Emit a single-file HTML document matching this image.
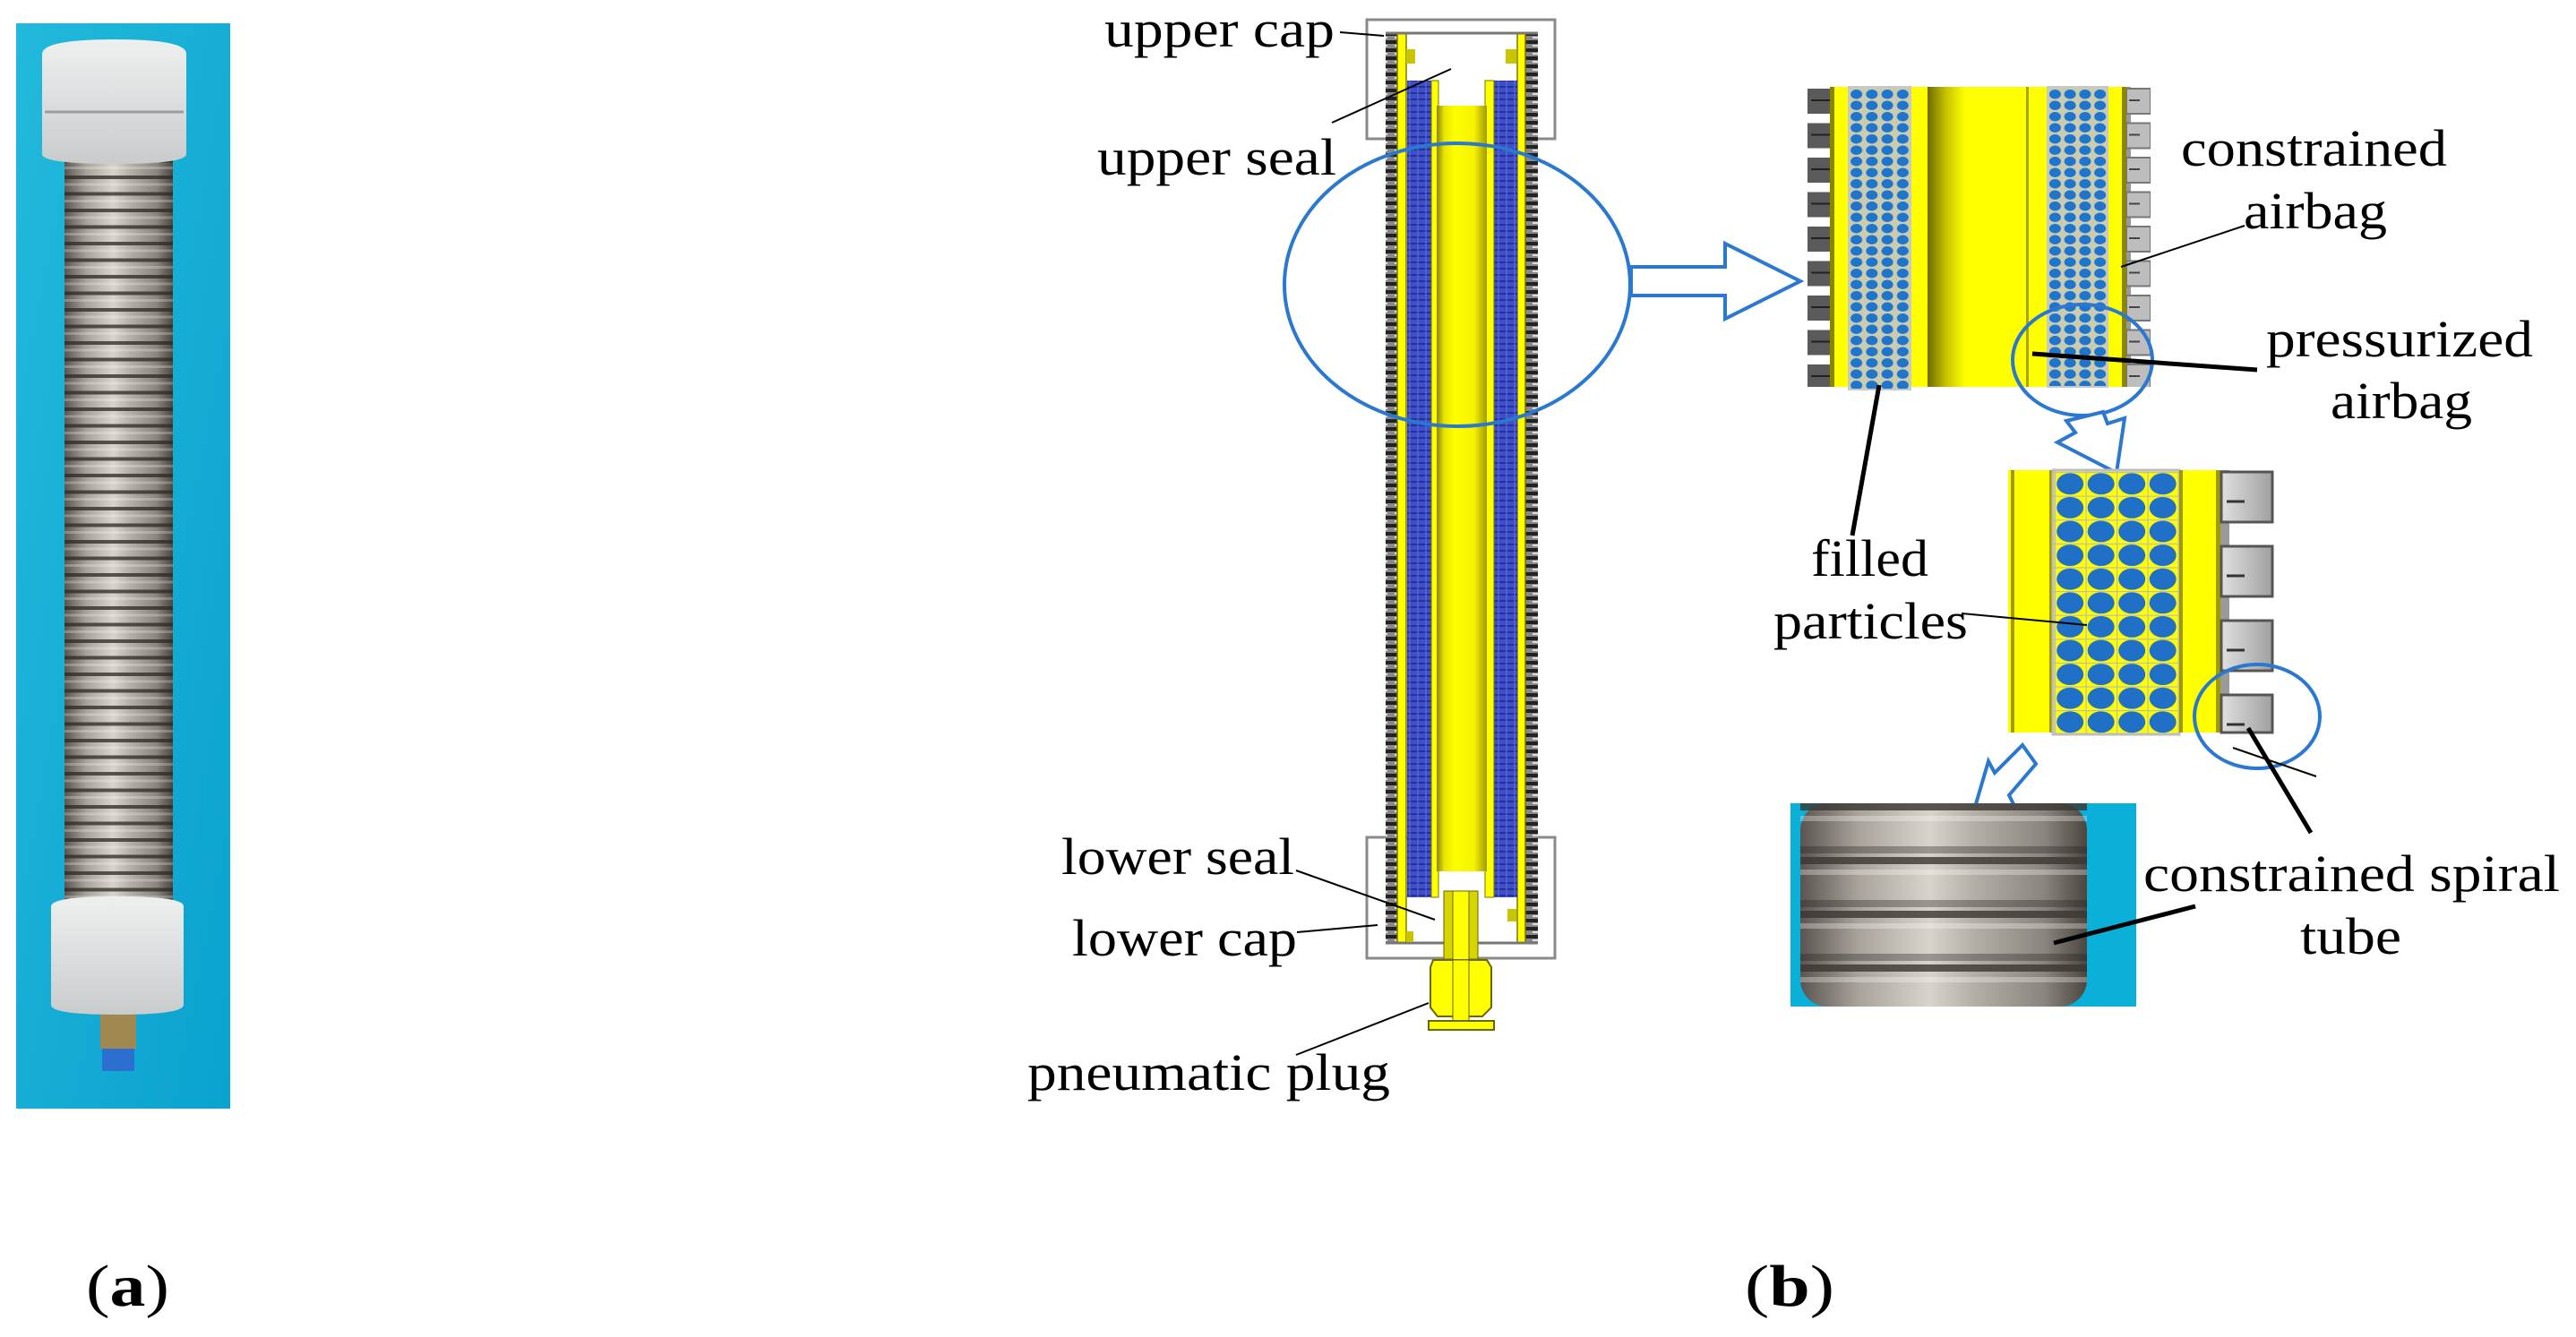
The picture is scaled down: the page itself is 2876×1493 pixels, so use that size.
<!DOCTYPE html>
<html><head><meta charset="utf-8"><style>
html,body{margin:0;padding:0;background:#fff}
svg{display:block}
text{font-family:"Liberation Serif",serif;fill:#000}
</style></head><body>
<svg width="2876" height="1493" viewBox="0 0 2876 1493" xmlns="http://www.w3.org/2000/svg">
<defs>
<linearGradient id="cyan" x1="0" y1="0" x2="1" y2="1"><stop offset="0" stop-color="#22b9dc"/><stop offset="1" stop-color="#0aa2cf"/></linearGradient>
<linearGradient id="metal" x1="0" y1="0" x2="1" y2="0"><stop offset="0" stop-color="#5a5550"/><stop offset="0.2" stop-color="#a8a29a"/><stop offset="0.45" stop-color="#d8d4cc"/><stop offset="0.6" stop-color="#b5b0a8"/><stop offset="0.85" stop-color="#8a857e"/><stop offset="1" stop-color="#4a4640"/></linearGradient>
<pattern id="coils" x="0" y="183" width="10" height="18.5" patternUnits="userSpaceOnUse"><rect width="10" height="18.5" fill="none"/><rect y="13" width="10" height="4" fill="#2a2622" opacity="0.75"/><rect y="3" width="10" height="3" fill="#fff" opacity="0.25"/></pattern>
<linearGradient id="cap" x1="0" y1="0" x2="0" y2="1"><stop offset="0" stop-color="#eef0f0"/><stop offset="1" stop-color="#c9cccd"/></linearGradient>
<linearGradient id="innerTube" x1="0" y1="0" x2="1" y2="0"><stop offset="0" stop-color="#8a8400"/><stop offset="0.15" stop-color="#e8e400"/><stop offset="0.35" stop-color="#ffff00"/><stop offset="0.75" stop-color="#f5f200"/><stop offset="1" stop-color="#a09a00"/></linearGradient>
<linearGradient id="darkband" x1="0" y1="0" x2="1" y2="0"><stop offset="0" stop-color="#6e6a00"/><stop offset="0.5" stop-color="#c8c400"/><stop offset="1" stop-color="#ffff00"/></linearGradient>
<pattern id="ribs" x="0" y="0" width="14" height="9" patternUnits="userSpaceOnUse"><rect width="14" height="9" fill="#888"/><rect y="0" width="14" height="4" fill="#222"/><rect x="3" y="5" width="6" height="2" fill="#ddd"/></pattern>
<pattern id="bluegrid" x="0" y="0" width="9" height="7" patternUnits="userSpaceOnUse"><rect width="9" height="7" fill="#3d50c8"/><rect y="5" width="9" height="2" fill="#27309a"/><rect x="7" width="2" height="7" fill="#5a6ad8" opacity="0.6"/></pattern>
<pattern id="dots1" x="2064" y="99" width="17.25" height="12.5" patternUnits="userSpaceOnUse"><rect width="17.25" height="12.5" fill="#c9ccb0"/><ellipse cx="8.6" cy="6.25" rx="6.5" ry="5.2" fill="#1f74cc"/></pattern>
<pattern id="dots1b" x="2286" y="99" width="16.75" height="12.5" patternUnits="userSpaceOnUse"><rect width="16.75" height="12.5" fill="#c9ccb0"/><ellipse cx="8.4" cy="6.25" rx="6.5" ry="5.2" fill="#1f74cc"/></pattern>
<pattern id="dots2" x="2294" y="527" width="34.5" height="26.6" patternUnits="userSpaceOnUse"><rect width="34.5" height="26.6" fill="#ffff00"/><ellipse cx="17.2" cy="13.3" rx="15" ry="12" fill="#2070c8"/><rect x="0" y="0" width="34.5" height="1.2" fill="#bbb"/><rect x="0" y="0" width="1.2" height="26.6" fill="#bbb"/></pattern>
<pattern id="teethL" x="2018" y="97" width="25" height="38.5" patternUnits="userSpaceOnUse"><rect width="25" height="38.5" fill="#fff"/><rect x="0" y="2" width="25" height="28" fill="#5a5a5a"/><rect x="4" y="14" width="21" height="2" fill="#222"/></pattern>
<pattern id="teethR" x="2374" y="97" width="27" height="38.5" patternUnits="userSpaceOnUse"><rect width="27" height="38.5" fill="#fff"/><rect x="0" width="5" height="38.5" fill="#999"/><rect x="0" y="2" width="27" height="28" fill="#bdbdbd" stroke="#777" stroke-width="2"/><rect x="3" y="14" width="12" height="2" fill="#444"/></pattern>
<linearGradient id="toothG" x1="0" y1="0" x2="1" y2="0"><stop offset="0" stop-color="#e0e0e0"/><stop offset="1" stop-color="#a0a0a0"/></linearGradient>
<pattern id="coils2" x="0" y="897" width="10" height="60" patternUnits="userSpaceOnUse"><rect width="10" height="60" fill="none"/><rect y="0" width="10" height="8" fill="#3a3632" opacity="0.8"/><rect y="14" width="10" height="6" fill="#fff" opacity="0.3"/><rect y="48" width="10" height="8" fill="#222" opacity="0.35"/></pattern>
</defs>

<!-- (a) photo -->
<rect x="18" y="26" width="239" height="1212" fill="url(#cyan)"/>
<rect x="72" y="178" width="121" height="832" fill="url(#metal)"/>
<rect x="72" y="178" width="121" height="832" fill="url(#coils)"/>
<path d="M47 60 Q48 44 128 44 Q208 44 208 60 L208 172 Q208 183 128 183 Q47 183 47 172 Z" fill="url(#cap)"/>
<line x1="50" y1="125" x2="205" y2="125" stroke="#9a9d9f" stroke-width="3"/>
<path d="M57 1012 Q58 1001 130 1001 Q205 1001 205 1012 L205 1122 Q205 1133 130 1133 Q57 1133 57 1122 Z" fill="url(#cap)"/>
<rect x="112" y="1133" width="40" height="38" fill="#a08850"/>
<rect x="114" y="1171" width="36" height="25" fill="#2c6fd0"/>

<!-- (b) main cross-section -->
<rect x="1526" y="22" width="210" height="133" fill="#fff" stroke="#8a8a8a" stroke-width="3"/>
<rect x="1526" y="935" width="210" height="135" fill="#fff" stroke="#8a8a8a" stroke-width="3"/>
<rect x="1547" y="37" width="13" height="1016" fill="url(#ribs)"/>
<rect x="1703" y="37" width="14" height="1016" fill="url(#ribs)"/>
<rect x="1560" y="37" width="10" height="1016" fill="#ffff00" stroke="#7a7600" stroke-width="1.5"/>
<rect x="1694" y="37" width="9" height="1016" fill="#ffff00" stroke="#7a7600" stroke-width="1.5"/>
<line x1="1547" y1="37" x2="1717" y2="37" stroke="#777" stroke-width="3"/>
<line x1="1547" y1="1053" x2="1717" y2="1053" stroke="#777" stroke-width="3"/>
<rect x="1571" y="90" width="27" height="912" fill="url(#bluegrid)"/>
<rect x="1668" y="90" width="26" height="912" fill="url(#bluegrid)"/>
<rect x="1598" y="90" width="8" height="912" fill="#ffff00" stroke="#7a7600"/>
<rect x="1658" y="90" width="10" height="912" fill="#ffff00" stroke="#7a7600"/>
<rect x="1570" y="55" width="10" height="16" fill="#c8c400"/>
<rect x="1681" y="55" width="12" height="16" fill="#c8c400"/>
<rect x="1604" y="118" width="56" height="855" fill="url(#innerTube)"/>
<rect x="1612" y="995" width="38" height="76" fill="#d8d400" stroke="#6a6600"/>
<rect x="1622" y="995" width="18" height="150" fill="#ffff00" stroke="#6a6600"/>
<path d="M1600 1072 L1660 1072 L1665 1080 L1665 1125 L1655 1135 L1605 1135 L1597 1125 L1597 1080 Z" fill="#ffff00" stroke="#6a6600" stroke-width="2"/>
<rect x="1622" y="1072" width="18" height="78" fill="#ffff00" stroke="#6a6600"/>
<rect x="1595" y="1140" width="73" height="10" fill="#ffff00" stroke="#6a6600" stroke-width="2"/>
<rect x="1570" y="1040" width="8" height="12" fill="#c8c400"/>
<rect x="1683" y="1015" width="10" height="14" fill="#c8c400"/>

<!-- big ellipse + arrow -->
<ellipse cx="1627" cy="318" rx="193" ry="158" fill="none" stroke="#2a78d0" stroke-width="4"/>
<polygon points="1821,298 1926,298 1926,272 2010,314 1926,356 1926,330 1821,330" fill="#fff" stroke="#2a78d0" stroke-width="4"/>

<!-- box 1 -->
<rect x="2018" y="97" width="25" height="335" fill="url(#teethL)"/>
<rect x="2043" y="97" width="331" height="335" fill="#ffff00"/>
<rect x="2043" y="97" width="5" height="335" fill="#8a8600"/>
<rect x="2064" y="97" width="69" height="338" fill="url(#dots1)" stroke="#c8c8c8" stroke-width="2"/>
<rect x="2152" y="97" width="42" height="335" fill="url(#darkband)"/>
<rect x="2262" y="97" width="3" height="335" fill="#a8a400"/>
<rect x="2286" y="97" width="67" height="335" fill="url(#dots1b)" stroke="#c8c8c8" stroke-width="2"/>
<rect x="2369" y="97" width="5" height="335" fill="#8a8600"/>
<rect x="2374" y="97" width="27" height="335" fill="url(#teethR)"/>
<ellipse cx="2325" cy="402" rx="78" ry="62" fill="none" stroke="#2a78d0" stroke-width="4"/>
<polygon points="2363,528 2297,494 2317,483 2307,470 2348,460 2353,473 2372,467" fill="#fff" stroke="#2a78d0" stroke-width="4" stroke-linejoin="miter"/>

<!-- box 2 -->
<rect x="2242" y="525" width="50" height="293" fill="#ffff00"/>
<rect x="2245" y="525" width="4" height="293" fill="#a09c00"/>
<rect x="2288" y="525" width="4" height="293" fill="#a09c00"/>
<rect x="2292" y="525" width="141" height="295" fill="url(#dots2)" stroke="#bdbdbd" stroke-width="3"/>
<rect x="2433" y="525" width="45" height="293" fill="#ffff00"/>
<rect x="2433" y="525" width="4" height="293" fill="#a09c00"/>
<rect x="2474" y="525" width="5" height="293" fill="#a09c00"/>
<rect x="2479" y="525" width="10" height="293" fill="#9a9a9a"/>
<g fill="url(#toothG)" stroke="#555" stroke-width="3">
<rect x="2480" y="527" width="57" height="56"/>
<rect x="2480" y="610" width="57" height="56"/>
<rect x="2480" y="693" width="57" height="56"/>
<rect x="2480" y="776" width="57" height="42"/>
</g>
<g stroke="#333" stroke-width="3">
<line x1="2486" y1="560" x2="2506" y2="560"/><line x1="2486" y1="643" x2="2506" y2="643"/><line x1="2486" y1="726" x2="2506" y2="726"/><line x1="2486" y1="809" x2="2506" y2="809"/>
</g>
<ellipse cx="2520" cy="800" rx="70" ry="58" fill="none" stroke="#2a78d0" stroke-width="4"/>
<polygon points="2203,908 2220,850 2227,863 2258,832 2273,853 2243,888 2250,902" fill="#fff" stroke="#2a78d0" stroke-width="4"/>

<!-- photo crop -->
<rect x="1999" y="897" width="386" height="227" fill="#0ab0d8"/>
<rect x="2010" y="897" width="320" height="227" rx="30" fill="url(#metal)"/>
<rect x="2010" y="897" width="320" height="227" fill="url(#coils2)"/>

<!-- leader lines -->
<g stroke="#000" stroke-width="2" fill="none">
<line x1="1496" y1="36" x2="1545" y2="40"/>
<line x1="1487" y1="137" x2="1620" y2="77"/>
<line x1="1447" y1="972" x2="1602" y2="1027"/>
<line x1="1448" y1="1041" x2="1538" y2="1033"/>
<line x1="1447" y1="1178" x2="1595" y2="1120"/>
<line x1="2368" y1="298" x2="2506" y2="252"/>
<line x1="2190" y1="685" x2="2330" y2="698"/>
<line x1="2493" y1="835" x2="2586" y2="867"/>
</g>
<g stroke="#000" stroke-width="5" fill="none">
<line x1="2269" y1="395" x2="2520" y2="413"/>
<line x1="2098" y1="430" x2="2068" y2="598"/>
<line x1="2510" y1="813" x2="2580" y2="930"/>
<line x1="2293" y1="1053" x2="2451" y2="1012"/>
</g>

<!-- labels -->
<g font-size="58">
<text x="1233" y="52" textLength="257" lengthAdjust="spacingAndGlyphs">upper cap</text>
<text x="1225" y="195" textLength="267" lengthAdjust="spacingAndGlyphs">upper seal</text>
<text x="1185" y="976" textLength="260" lengthAdjust="spacingAndGlyphs">lower seal</text>
<text x="1197" y="1067" textLength="251" lengthAdjust="spacingAndGlyphs">lower cap</text>
<text x="1147" y="1217" textLength="405" lengthAdjust="spacingAndGlyphs">pneumatic plug</text>
<text x="2435" y="185" textLength="297" lengthAdjust="spacingAndGlyphs">constrained</text>
<text x="2505" y="255" textLength="160" lengthAdjust="spacingAndGlyphs">airbag</text>
<text x="2530" y="398" textLength="298" lengthAdjust="spacingAndGlyphs">pressurized</text>
<text x="2602" y="467" textLength="158" lengthAdjust="spacingAndGlyphs">airbag</text>
<text x="2022" y="643" textLength="131" lengthAdjust="spacingAndGlyphs">filled</text>
<text x="1980" y="713" textLength="217" lengthAdjust="spacingAndGlyphs">particles</text>
<text x="2393" y="995" textLength="465" lengthAdjust="spacingAndGlyphs">constrained spiral</text>
<text x="2568" y="1065" textLength="113" lengthAdjust="spacingAndGlyphs">tube</text>
</g>
<g font-size="66">
<text x="96" y="1458" textLength="93" lengthAdjust="spacingAndGlyphs">(<tspan font-weight="bold">a</tspan>)</text>
<text x="1948" y="1458" textLength="100" lengthAdjust="spacingAndGlyphs">(<tspan font-weight="bold">b</tspan>)</text>
</g>
</svg>
</body></html>
